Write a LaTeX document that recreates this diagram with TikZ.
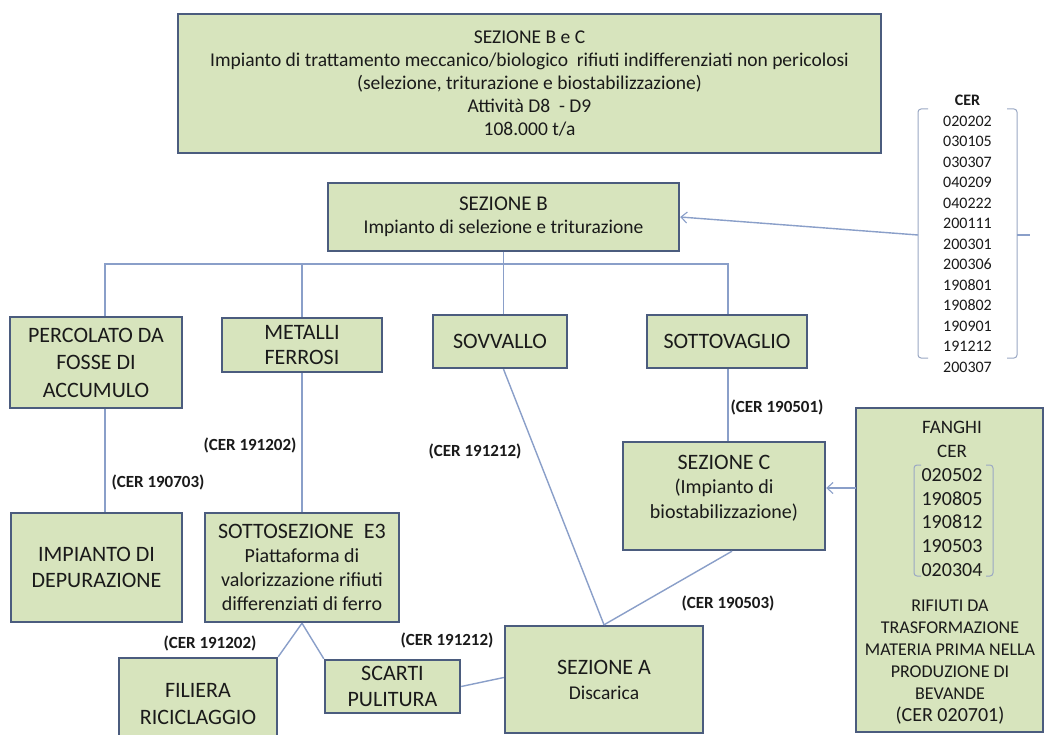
\documentclass[tikz,border=0pt]{standalone}
\usepackage{fontspec}
\setmainfont{Carlito}
\usetikzlibrary{arrows.meta}
\definecolor{boxfill}{HTML}{D7E4BD}
\definecolor{boxdraw}{HTML}{4B5C7E}
\definecolor{linec}{HTML}{8A9FC9}
\definecolor{txt}{HTML}{1A1A1A}
\definecolor{brk}{HTML}{9AA8C4}
\begin{document}
\begin{tikzpicture}[x=1pt,y=-1pt,
  box/.style={draw=boxdraw,line width=2.4pt,fill=boxfill,inner sep=0pt,text=txt,align=center,
              font=\fontsize{22}{26.5}\selectfont},
  conn/.style={draw=linec,line width=1.4pt},
  arr/.style={conn,-{Straight Barb[length=6pt,width=11pt,line width=1.1pt]}},
  lbl/.style={font=\fontsize{17}{20}\selectfont\bfseries,text=txt,inner sep=0pt},
  txtn/.style={text=txt,align=center,inner sep=0pt},
  brack/.style={draw=brk,line width=1pt,rounded corners=3pt},
]
\useasboundingbox (0,0) rectangle (1046,735);
\clip (0,0) rectangle (1046,735);
\fill[white] (0,0) rectangle (1046,735);

% boxes
\node[box,minimum width=703pt,minimum height=139pt,font=\fontsize{19.5}{23.2}\selectfont] (top) at (529.5,83.5)
  {SEZIONE B e C\\Impianto di trattamento meccanico/biologico\ \ rifiuti indifferenziati non pericolosi\\(selezione, triturazione e biostabilizzazione)\\Attività D8\ \ - D9\\108.000 t/a};
\node[box,minimum width=351pt,minimum height=68pt,font=\fontsize{19.5}{23}\selectfont] (sezB) at (503.5,217)
  {{\fontsize{21}{23}\selectfont SEZIONE B}\\Impianto di selezione e triturazione};
\node[box,minimum width=172pt,minimum height=91pt,font=\fontsize{22}{27.5}\selectfont] (perc) at (96,362.5) {PERCOLATO DA\\FOSSE DI\\ACCUMULO};
\node[box,minimum width=160pt,minimum height=54pt,font=\fontsize{22}{25}\selectfont] (met) at (302,345) {METALLI\\FERROSI};
\node[box,minimum width=134pt,minimum height=53pt] (sovv) at (500,341.5) {SOVVALLO};
\node[box,minimum width=160pt,minimum height=53pt] (sottov) at (727,341.5) {SOTTOVAGLIO};
\node[box,minimum width=171pt,minimum height=109pt] (imp) at (96.5,567.5) {IMPIANTO DI\\DEPURAZIONE};
\node[box,minimum width=194pt,minimum height=109pt,font=\fontsize{20}{24.2}\selectfont] (sotto) at (302,567.5)
  {{\fontsize{22}{24.2}\selectfont SOTTOSEZIONE\ \ E3}\\Piattaforma di\\valorizzazione rifiuti\\differenziati di ferro};
\node[box,minimum width=158pt,minimum height=92pt] (fil) at (198,704) {FILIERA\\RICICLAGGIO};
\node[box,minimum width=135pt,minimum height=53pt] (scar) at (392.5,686.5) {SCARTI\\PULITURA};
\node[box,minimum width=198pt,minimum height=107pt,font=\fontsize{19.5}{25}\selectfont] (sezA) at (604,679.5)
  {{\fontsize{22}{25}\selectfont SEZIONE A}\\Discarica};
\node[box,minimum width=202pt,minimum height=108pt] (sezC) at (724,496) {};
\node[txtn,font=\fontsize{20}{24.5}\selectfont] (sezCt) at (724,488)
  {{\fontsize{22}{24.5}\selectfont SEZIONE C}\\(Impianto di\\biostabilizzazione)};
\node[box,minimum width=187pt,minimum height=324pt] (fanghi) at (949.5,570) {};
\node[txtn,font=\fontsize{19}{23.8}\selectfont] (fangT) at (952,499)
  {FANGHI\\CER\\{\fontsize{20}{23.8}\selectfont 020502}\\{\fontsize{20}{23.8}\selectfont 190805}\\{\fontsize{20}{23.8}\selectfont 190812}\\{\fontsize{20}{23.8}\selectfont 190503}\\{\fontsize{20}{23.8}\selectfont 020304}};
\node[txtn,font=\fontsize{18}{22}\selectfont] (fangB) at (950,662)
  {RIFIUTI DA\\TRASFORMAZIONE\\MATERIA PRIMA NELLA\\PRODUZIONE DI\\BEVANDE\\{\fontsize{20}{22}\selectfont (CER 020701)}};
\draw[brack] (921,465) -- (914,465) -- (914,576) -- (921,576);
\draw[brack] (986,465) -- (993,465) -- (993,576) -- (986,576);

% CER list
\node[txtn,font=\fontsize{16}{20}\selectfont\bfseries] (cerh) at (967.5,100) {CER};
\node[txtn,font=\fontsize{16}{20.5}\selectfont] (cerl) at (967.5,244)
  {020202\\030105\\030307\\040209\\040222\\200111\\200301\\200306\\190801\\190802\\190901\\191212\\200307};
\draw[brack] (928,109) -- (918,109) -- (918,358) -- (928,358);
\draw[brack] (1007,109) -- (1017,109) -- (1017,358) -- (1007,358);
\coordinate (cerL) at (918,235);
\coordinate (cerR) at (1017,235);

% connectors
\coordinate (busL) at (105,264);
\coordinate (busR) at (728,264);
\draw[conn] (perc.north -| busL) -- (busL) -- (busR) -- (sottov.north -| busR);
\draw[conn] (met.north) -- (met.north |- busL);
\draw[conn] (sezB.south) -- (sezB.south |- sovv.north);
\draw[conn] (perc.south -| busL) -- (imp.north -| busL);
\draw[conn] (met.south) -- (sotto.north);
\draw[conn] (sovv.south -| sezB.south) -- (sezA.north);
\draw[conn] (sottov.south -| busR) -- (sezC.north -| busR);
\draw[conn] ([xshift=8pt]sezC.south) -- (sezA.north);
\draw[conn] (sotto.south) -- (fil.north east);
\draw[conn] (sotto.south) -- (scar.north west);
\draw[conn] (scar.east) -- ([yshift=2pt]sezA.west);
\coordinate (fa) at (856,488);
\draw[arr] (fa) -- (fa -| sezC.east);
\draw[arr] (cerL) -- (sezB.east);
\draw[conn] (cerR) -- ++(13,0);

% labels
\node[lbl] (l1) at (777,407) {(CER 190501)};
\node[lbl] (l2) at (475,451) {(CER 191212)};
\node[lbl] (l3) at (250,445) {(CER 191202)};
\node[lbl] (l4) at (158,482) {(CER 190703)};
\node[lbl] (l5) at (210,643) {(CER 191202)};
\node[lbl] (l6) at (447,640) {(CER 191212)};
\node[lbl] (l7) at (728,603) {(CER 190503)};
\end{tikzpicture}
\end{document}
